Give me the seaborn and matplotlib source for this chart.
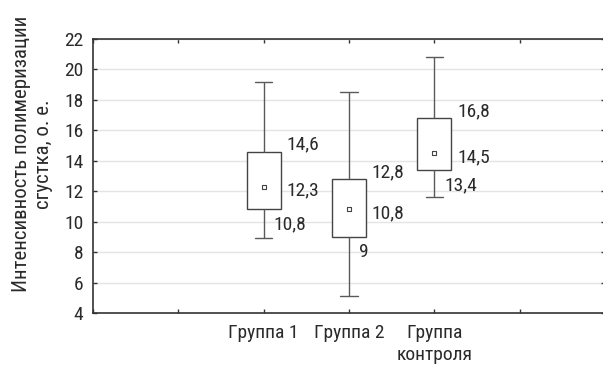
import matplotlib
matplotlib.use("Agg")
import matplotlib.pyplot as plt
from matplotlib import font_manager
import seaborn as sns
import pandas as pd

# ---- data ----
groups = ["Группа 1", "Группа 2", "Группа\nконтроля"]
minimum = [8.9, 5.1, 11.6]
q1 = [10.8, 9.0, 13.4]
median = [12.3, 10.8, 14.5]
q3 = [14.6, 12.8, 16.8]
maximum = [19.2, 18.5, 20.8]
q1_labels = ["10,8", "9", "13,4"]
median_labels = ["12,3", "10,8", "14,5"]
q3_labels = ["14,6", "12,8", "16,8"]
yticks = [4, 6, 8, 10, 12, 14, 16, 18, 20, 22]
ylabel = "Интенсивность полимеризации\nсгустка, о. е."

# ---- font choice: prefer a condensed face ----
sns.set_theme(style="white")
names = {f.name for f in font_manager.fontManager.ttflist}
cond_dejavu = any(f.name == "DejaVu Sans" and "condensed" in str(f.stretch)
                  for f in font_manager.fontManager.ttflist)
family = ["DejaVu Sans"]
stretch = "normal"
for cand in ["Roboto Condensed", "Liberation Sans Narrow", "Open Sans Condensed"]:
    if cand in names:
        family = [cand, "DejaVu Sans"]
        break
else:
    if cond_dejavu:
        stretch = "condensed"
plt.rcParams["font.family"] = family
plt.rcParams["font.stretch"] = stretch

TXT = "#2a2a2a"
EDGE = "#444444"

# five-number summaries: with linear percentiles the 25/50/75 % of these
# five values are exactly q1/median/q3, whiskers at min/max
rows = []
for g, a, b, c, d, e in zip(groups, minimum, q1, median, q3, maximum):
    for v in (a, b, c, d, e):
        rows.append({"group": g, "value": v})
df = pd.DataFrame(rows)
med_df = pd.DataFrame({"group": groups, "value": median})

fig = plt.figure(figsize=(6.03, 3.66), dpi=100)
W, H = 603, 366
ax = fig.add_axes([93 / W, 1 - 313 / H, 512 / W, 274 / H])

sns.boxplot(data=df, x="group", y="value", order=groups, whis=(0, 100),
            width=0.4, color="white", linecolor=EDGE, linewidth=1.0,
            showfliers=False, medianprops={"visible": False},
            whiskerprops={"color": "#5a5a5a"}, capprops={"color": "#5a5a5a"},
            ax=ax)
sns.scatterplot(data=med_df, x="group", y="value", marker="s", s=9,
                color="white", edgecolor=EDGE, linewidth=0.8, zorder=5,
                ax=ax, legend=False)

ax.set_xlim(-2, 4)
ax.set_ylim(4, 22)
ax.set_yticks(yticks)
ax.set_xticks([-2, -1, 0, 1, 2, 3, 4])
ax.set_xticklabels(["", "", groups[0], groups[1], groups[2], "", ""])
ax.grid(axis="y", color="#e4e4e4", linewidth=1.0)
ax.set_axisbelow(True)

fs = 14
ax.tick_params(axis="x", which="both", direction="in", length=3, width=1,
               color="#333333", top=True, bottom=True, labelsize=fs,
               labelcolor=TXT, pad=8)
ax.tick_params(axis="y", which="both", direction="in", length=3, width=1,
               color="#333333", left=True, right=True, labelsize=fs,
               labelcolor=TXT, pad=7)
for lab in ax.get_xticklabels():
    lab.set_multialignment("center")
    lab.set_linespacing(1.3)

for side in ["left", "bottom", "top"]:
    ax.spines[side].set_color("#333333")
    ax.spines[side].set_linewidth(1.2)
ax.spines["right"].set_visible(False)

ax.set_xlabel("")
ax.set_ylabel(ylabel, fontsize=15, color=TXT, ha="center", va="center",
              linespacing=1.25)
ax.yaxis.set_label_coords(-0.118, 0.58)

# value annotations
for i in range(len(groups)):
    ax.annotate(q3_labels[i], (i + 0.2, q3[i]), xytext=(4, 5),
                textcoords="offset points", ha="left", va="center",
                fontsize=fs, color=TXT)
    ax.annotate(median_labels[i], (i + 0.2, median[i]), xytext=(4, -3),
                textcoords="offset points", ha="left", va="center",
                fontsize=fs, color=TXT)
    ax.annotate(q1_labels[i], (i, q1[i]), xytext=(7, -11),
                textcoords="offset points", ha="left", va="center",
                fontsize=fs, color=TXT)

fig.savefig("out.png", dpi=100)
